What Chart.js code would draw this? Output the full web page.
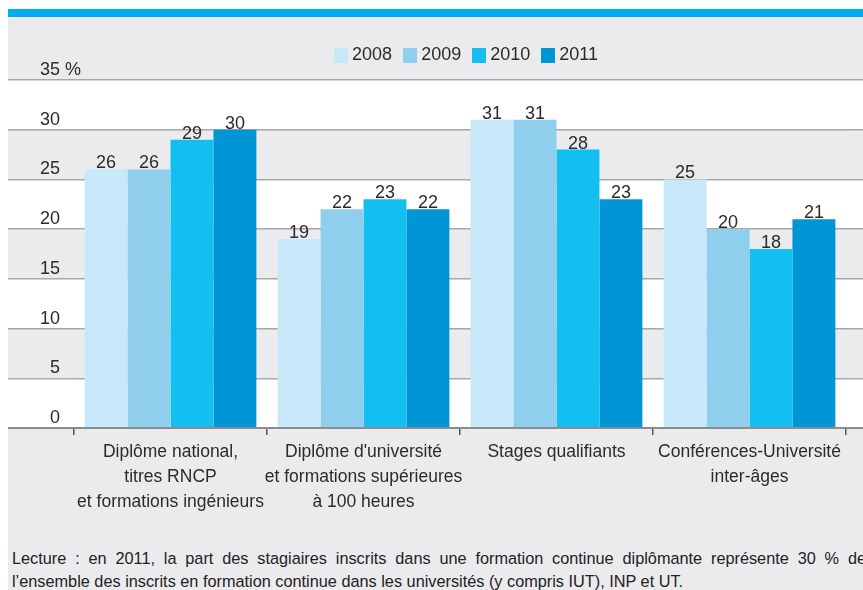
<!DOCTYPE html>
<html><head><meta charset="utf-8">
<script src="https://cdn.jsdelivr.net/npm/chart.js@4.4.0/dist/chart.umd.min.js"></script>
<style>
html,body{margin:0;padding:0;background:#fff;width:863px;height:590px;overflow:hidden;position:relative;}
#frame{position:absolute;left:8px;top:9px;width:855px;height:581px;background:#ebebee;border-top:8px solid #00aeef;box-sizing:border-box;}
#chart{position:absolute;left:0;top:0;}
#note{position:absolute;left:12px;top:547px;width:854px;font-family:"Liberation Sans",Arial,sans-serif;font-size:16.3px;color:#222;line-height:23px;}
#note div{white-space:nowrap;}
#note .j{text-align:justify;text-align-last:justify;white-space:normal;}
</style></head>
<body>
<div id="frame"></div>
<canvas id="chart" width="863" height="530"></canvas>
<div id="note">
<div class="j">Lecture : en 2011, la part des stagiaires inscrits dans une formation continue diplômante représente 30 % de</div>
<div>l’ensemble des inscrits en formation continue dans les universités (y compris IUT), INP et UT.</div>
</div>
<script>
const categories = [
  ["Diplôme national,", "titres RNCP", "et formations ingénieurs"],
  ["Diplôme d'université", "et formations supérieures", "à 100 heures"],
  "Stages qualifiants",
  ["Conférences-Université", "inter-âges"]
];
const years = ["2008", "2009", "2010", "2011"];
const s2008 = [26, 19, 31, 25];
const s2009 = [26, 22, 31, 20];
const s2010 = [29, 23, 28, 18];
const s2011 = [30, 22, 23, 21];
const seriesValues = [s2008, s2009, s2010, s2011];
const yMin = 0, yMax = 35, yStep = 5;
const colors = ["#c6e8f8", "#8fcfed", "#13bff0", "#0096d6"];

const FONT = '"Liberation Sans",Arial,sans-serif';
Chart.defaults.font.family = FONT;
Chart.defaults.color = "#2b2b2b";

function swatch(c) {
  const cv = document.createElement("canvas");
  cv.width = 14; cv.height = 15;
  const x = cv.getContext("2d");
  x.fillStyle = c; x.fillRect(0, 0, 14, 15);
  return cv;
}
const swatches = colors.map(swatch);

const legendFit = {
  id: "legendFit",
  beforeInit(chart) {
    const lg = chart.legend;
    if (lg) {
      const f = lg.fit;
      lg.fit = function () { f.call(this); this.height = 49; };
    }
  }
};

const bands = {
  id: "bands",
  beforeDraw(chart) {
    const y = chart.scales.y, y2 = chart.scales.y2, ctx = chart.ctx;
    const left = y.right - y.options.grid.tickLength;
    const right = y2.left + y2.options.grid.tickLength;
    ctx.save();
    ctx.fillStyle = "#ffffff";
    y.ticks.forEach(t => {
      const v = t.value;
      if (v < yMax && (v / yStep) % 2 === 0) {
        const top = y.getPixelForValue(v + yStep), bot = y.getPixelForValue(v);
        ctx.fillRect(left, top, right - left, bot - top);
      }
    });
    ctx.restore();
  }
};

const valueLabels = {
  id: "valueLabels",
  afterDatasetsDraw(chart) {
    const ctx = chart.ctx;
    ctx.save();
    ctx.font = "18px " + FONT;
    ctx.fillStyle = "#2b2b2b";
    ctx.textAlign = "center";
    ctx.textBaseline = "alphabetic";
    chart.data.datasets.forEach((ds, di) => {
      const meta = chart.getDatasetMeta(di);
      meta.data.forEach((el, i) => {
        ctx.fillText(String(ds.data[i]), el.x, el.y - 1);
      });
    });
    ctx.restore();
  }
};

new Chart(document.getElementById("chart"), {
  type: "bar",
  data: {
    labels: categories,
    datasets: years.map((yr, i) => ({
      label: yr,
      data: seriesValues[i],
      backgroundColor: colors[i],
      borderWidth: 0,
      categoryPercentage: 0.89,
      barPercentage: 1.0
    }))
  },
  options: {
    responsive: false,
    animation: false,
    devicePixelRatio: 1,
    layout: { padding: { top: 31, left: 73, right: 0, bottom: 0 } },
    plugins: {
      tooltip: { enabled: false },
      legend: {
        position: "top",
        align: "center",
        labels: {
          usePointStyle: true,
          pointStyleWidth: 5,
          boxHeight: 15,
          padding: 15,
          color: "#2b2b2b",
          font: { size: 18 },
          generateLabels(chart) {
            const items = Chart.defaults.plugins.legend.labels.generateLabels(chart);
            items.forEach((it, i) => { it.pointStyle = swatches[i]; });
            return items;
          }
        }
      }
    },
    scales: {
      x: {
        offset: true,
        grid: { offset: true, drawOnChartArea: false, drawTicks: true, tickLength: 7, color: "#555", lineWidth: 1.5 },
        border: { display: true, color: "#8c8c8c", width: 2 },
        ticks: { autoSkip: false, maxRotation: 0, minRotation: 0, padding: 5, color: "#2b2b2b", font: { size: 17.5, lineHeight: "25px" } },
        afterFit(s) { s.height = 102; }
      },
      y: {
        position: "left",
        min: yMin, max: yMax,
        grid: {
          drawTicks: true, tickLength: 66,
          color: c => (c.tick && c.tick.value === 0 ? "#8c8c8c" : "#a8a8a8"),
          lineWidth: c => (c.tick && c.tick.value === 0 ? 2 : 1.5)
        },
        border: { display: false },
        ticks: {
          stepSize: yStep,
          labelOffset: -10,
          mirror: true,
          padding: -34,
          color: "#2b2b2b",
          font: { size: 18 },
          callback: v => (v === yMax ? v + " %" : (v < 10 ? "\u2007" + v : String(v)))
        },
        afterFit(s) { s.width = 1; }
      },
      y2: {
        position: "right",
        min: yMin, max: yMax,
        grid: {
          drawOnChartArea: false, drawTicks: true, tickLength: 17,
          color: c => (c.tick && c.tick.value === 0 ? "#8c8c8c" : "#a8a8a8"),
          lineWidth: c => (c.tick && c.tick.value === 0 ? 2 : 1.5)
        },
        border: { display: false },
        ticks: { stepSize: yStep, display: false },
        afterFit(s) { s.width = 17; }
      }
    }
  },
  plugins: [legendFit, bands, valueLabels]
});
</script>
</body></html>
